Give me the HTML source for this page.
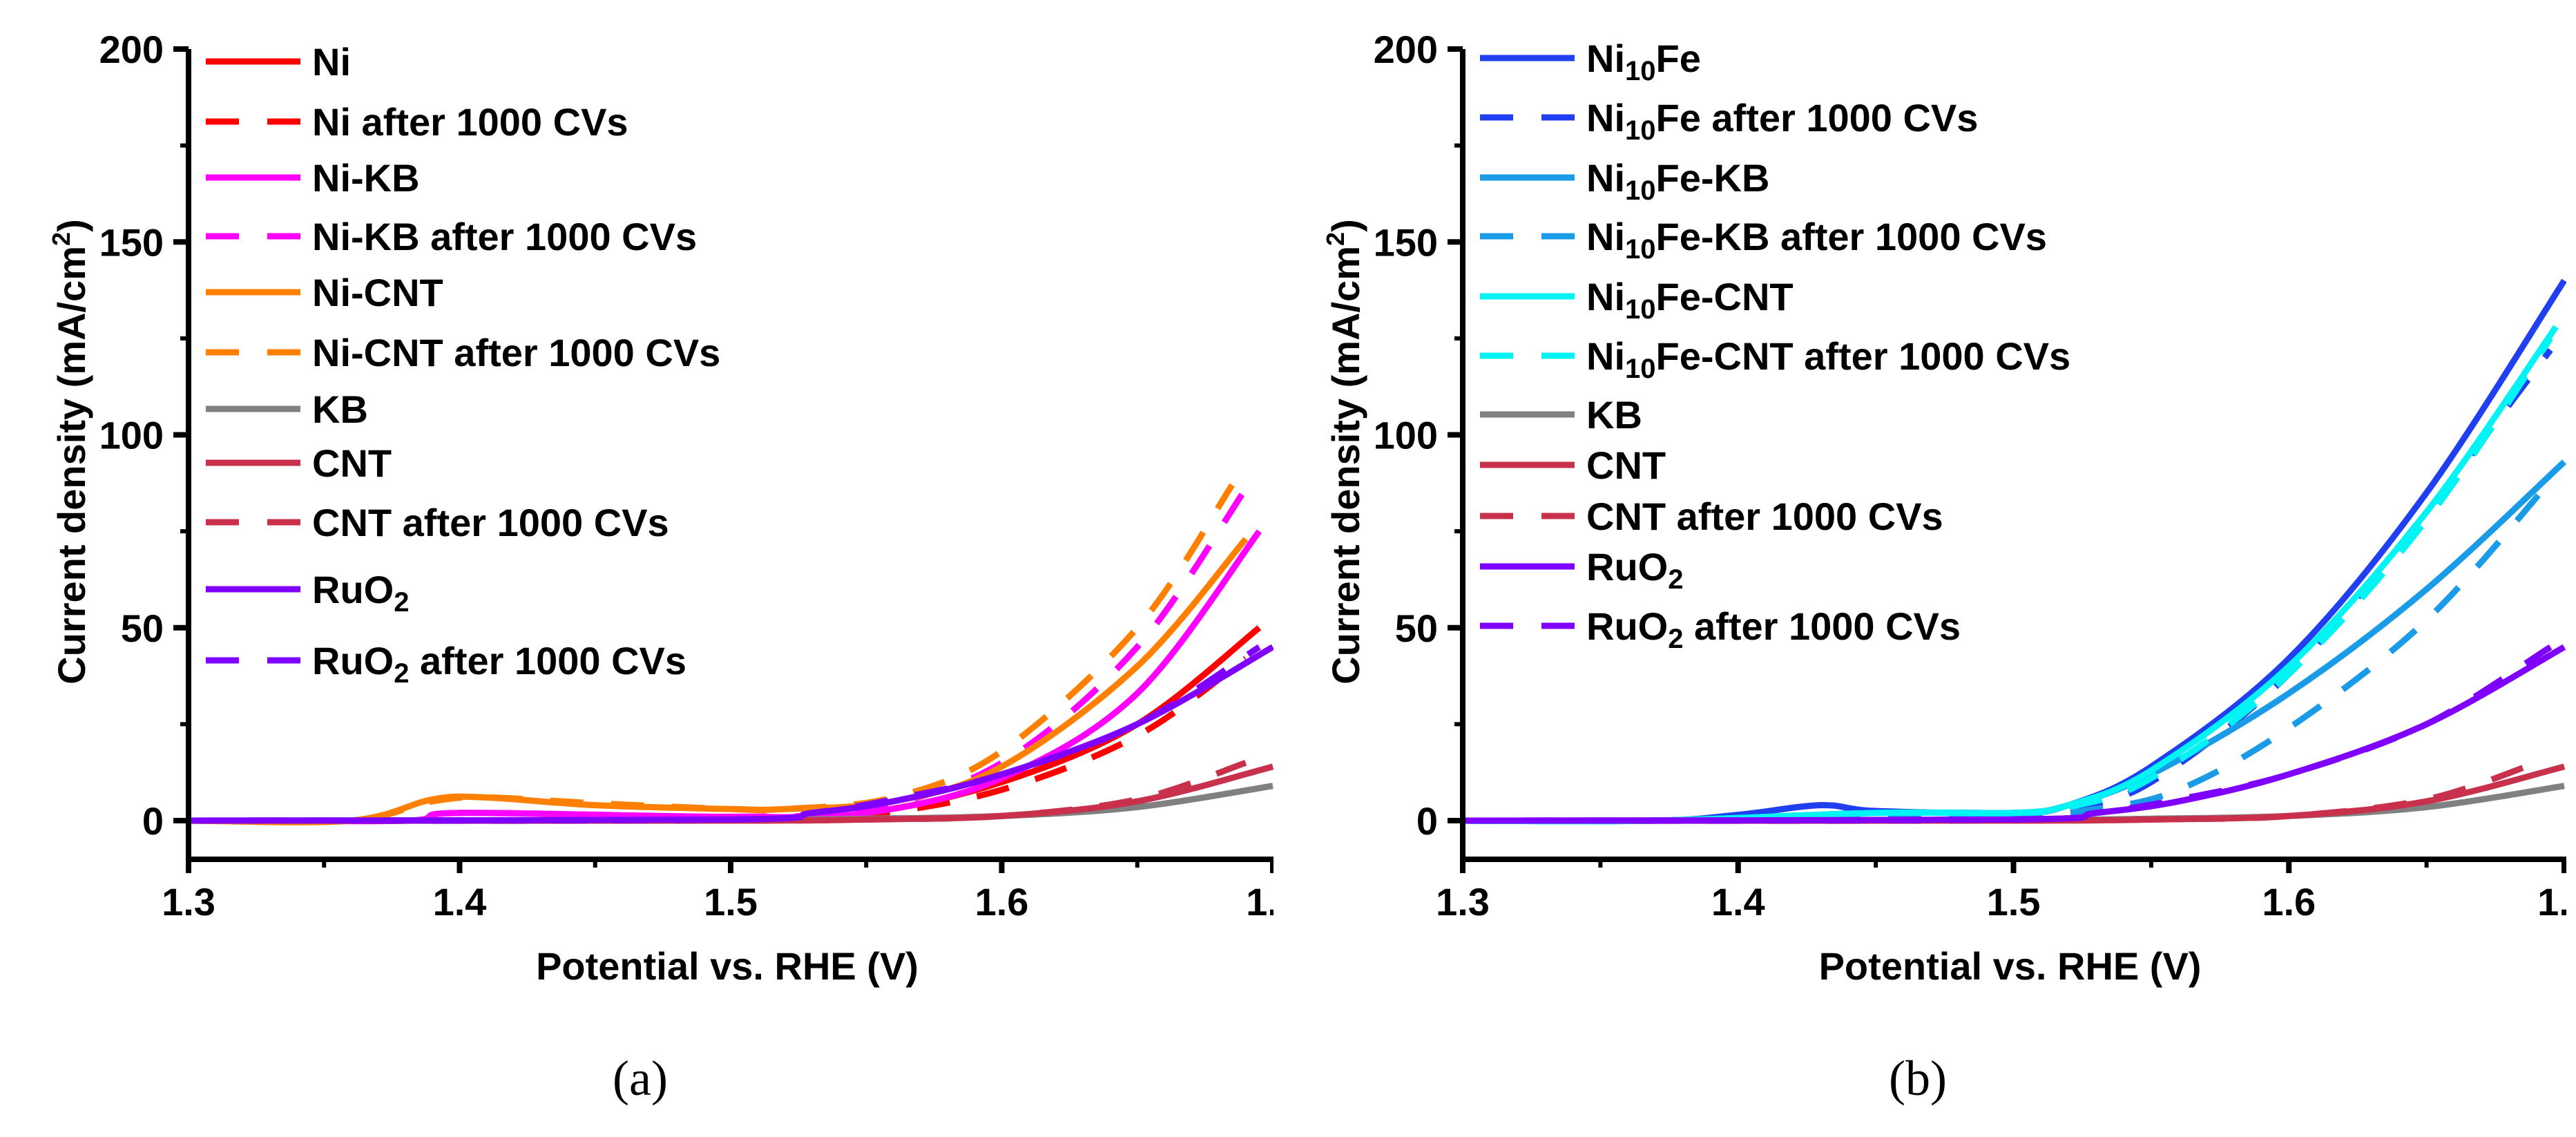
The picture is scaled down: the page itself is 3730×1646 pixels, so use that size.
<!DOCTYPE html>
<html><head><meta charset="utf-8"><style>
html,body{margin:0;padding:0;background:#fff;}
svg{display:block;}
text{font-family:"Liberation Sans",sans-serif;font-weight:bold;fill:#000;}
.cap{font-family:"Liberation Serif",serif;font-weight:normal;}
</style></head><body>
<svg id="fig" width="3730" height="1646" viewBox="0 0 3730 1646" xmlns="http://www.w3.org/2000/svg">
<defs>
<clipPath id="clipA"><rect x="0" y="0" width="1844" height="1646"/></clipPath>
<clipPath id="clipB"><rect x="1860" y="0" width="1856" height="1646"/></clipPath>
</defs>
<g id="panelA" clip-path="url(#clipA)"></g>
<g id="panelB" clip-path="url(#clipB)"></g>
<text class="cap" x="927" y="1585" font-size="72" text-anchor="middle">(a)</text>
<text class="cap" x="2777" y="1585" font-size="72" text-anchor="middle">(b)</text>
</svg>
<script>
// ---- data ----
const xTicks = [1.3, 1.4, 1.5, 1.6, 1.7];
const xTickLabels = ["1.3", "1.4", "1.5", "1.6", "1.7"];
const yTicks = [0, 50, 100, 150, 200];
const yTickLabels = ["0", "50", "100", "150", "200"];

const niX = [1.3, 1.5, 1.55, 1.6, 1.65, 1.695];
const niY = [0, 0.3, 2, 10, 25, 50];
const niAfterX = [1.3, 1.5, 1.55, 1.6, 1.65, 1.69];
const niAfterY = [0, 0.2, 1.5, 8, 22, 42];
const niKbX = [1.3, 1.38, 1.4, 1.5, 1.55, 1.6, 1.65, 1.695];
const niKbY = [0, 0, 2, 1, 2, 11, 33, 75];
const niKbAfterX = [1.3, 1.38, 1.4, 1.5, 1.55, 1.6, 1.65, 1.69];
const niKbAfterY = [0, 0, 2, 1, 3, 15, 45, 86];
const niCntX = [1.3, 1.36, 1.39, 1.41, 1.45, 1.5, 1.52, 1.56, 1.6, 1.65, 1.69];
const niCntY = [0, 0, 5.5, 6, 4, 3, 3, 5, 14, 40, 73];
const niCntAfterX = [1.3, 1.36, 1.39, 1.41, 1.45, 1.5, 1.52, 1.56, 1.6, 1.65, 1.685];
const niCntAfterY = [0, 0, 5, 6, 4.5, 3, 3, 6, 18, 50, 87];
const kbX = [1.3, 1.5, 1.55, 1.6, 1.65, 1.7];
const kbY = [0, 0.2, 0.5, 1.2, 3.5, 9];
const cntX = [1.3, 1.5, 1.55, 1.6, 1.65, 1.7];
const cntY = [0, 0, 0.3, 1.2, 5, 14];
const cntAfterX = [1.3, 1.5, 1.55, 1.6, 1.65, 1.69];
const cntAfterY = [0, 0, 0.3, 1.2, 5.5, 15];
const ruX = [1.3, 1.5, 1.53, 1.56, 1.6, 1.65, 1.7];
const ruY = [0, 0.3, 2, 5, 12, 25, 45];
const ruAfterX = [1.3, 1.5, 1.53, 1.56, 1.6, 1.65, 1.695];
const ruAfterY = [0, 0.3, 2, 5.5, 12, 25, 45];

const feX = [1.3, 1.37, 1.4, 1.43, 1.45, 1.5, 1.52, 1.55, 1.6, 1.65, 1.7];
const feY = [0, 0, 1.5, 4, 2.5, 2, 4, 14, 42, 85, 140];
const feAfterX = [1.3, 1.37, 1.45, 1.5, 1.52, 1.55, 1.6, 1.65, 1.695];
const feAfterY = [0, 0, 2, 2, 3, 10, 38, 80, 122];
const feKbX = [1.3, 1.37, 1.45, 1.5, 1.52, 1.55, 1.6, 1.65, 1.7];
const feKbY = [0, 0, 2, 2, 4, 12, 33, 60, 93];
const feKbAfterX = [1.3, 1.37, 1.45, 1.5, 1.53, 1.56, 1.6, 1.65, 1.695];
const feKbAfterY = [0, 0, 1.5, 1.5, 3, 8, 24, 52, 88];
const feCntX = [1.3, 1.37, 1.45, 1.5, 1.52, 1.55, 1.6, 1.65, 1.697];
const feCntY = [0, 0, 2, 2, 4, 13, 40, 80, 128];
const feCntAfterX = [1.3, 1.37, 1.45, 1.5, 1.52, 1.55, 1.6, 1.65, 1.695];
const feCntAfterY = [0, 0, 2, 2, 3.5, 11, 38, 78, 125];

// ---- styles ----
const RED="#ff0000", MAG="#ff00ff", ORG="#ff8000", GRY="#808080", CRM="#c8304c", PUR="#8000ff";
const BLU="#1f3ff0", SKY="#1a9be8", CYN="#00f4f4";

const seriesA = [
 {name:"Ni", x:niX, y:niY, c:RED, d:false, id:"ni"},
 {name:"Ni after 1000 CVs", x:niAfterX, y:niAfterY, c:RED, d:true, id:"ni-after"},
 {name:"Ni-KB", x:niKbX, y:niKbY, c:MAG, d:false, id:"ni-kb"},
 {name:"Ni-KB after 1000 CVs", x:niKbAfterX, y:niKbAfterY, c:MAG, d:true, id:"ni-kb-after"},
 {name:"Ni-CNT", x:niCntX, y:niCntY, c:ORG, d:false, id:"ni-cnt"},
 {name:"Ni-CNT after 1000 CVs", x:niCntAfterX, y:niCntAfterY, c:ORG, d:true, id:"ni-cnt-after"},
 {name:"KB", x:kbX, y:kbY, c:GRY, d:false, id:"kb"},
 {name:"CNT", x:cntX, y:cntY, c:CRM, d:false, id:"cnt"},
 {name:"CNT after 1000 CVs", x:cntAfterX, y:cntAfterY, c:CRM, d:true, id:"cnt-after"},
 {name:"RuO|2|", x:ruX, y:ruY, c:PUR, d:false, id:"ruo2"},
 {name:"RuO|2| after 1000 CVs", x:ruAfterX, y:ruAfterY, c:PUR, d:true, id:"ruo2-after"}
];
const legendYA = [89,176,257,342,423,510,592,670,756,853,956];
const seriesB = [
 {name:"Ni|10|Fe", x:feX, y:feY, c:BLU, d:false, id:"ni10fe"},
 {name:"Ni|10|Fe after 1000 CVs", x:feAfterX, y:feAfterY, c:BLU, d:true, id:"ni10fe-after"},
 {name:"Ni|10|Fe-KB", x:feKbX, y:feKbY, c:SKY, d:false, id:"ni10fe-kb"},
 {name:"Ni|10|Fe-KB after 1000 CVs", x:feKbAfterX, y:feKbAfterY, c:SKY, d:true, id:"ni10fe-kb-after"},
 {name:"Ni|10|Fe-CNT", x:feCntX, y:feCntY, c:CYN, d:false, id:"ni10fe-cnt"},
 {name:"Ni|10|Fe-CNT after 1000 CVs", x:feCntAfterX, y:feCntAfterY, c:CYN, d:true, id:"ni10fe-cnt-after"},
 {name:"KB", x:kbX, y:kbY, c:GRY, d:false, id:"kb"},
 {name:"CNT", x:cntX, y:cntY, c:CRM, d:false, id:"cnt"},
 {name:"CNT after 1000 CVs", x:cntAfterX, y:cntAfterY, c:CRM, d:true, id:"cnt-after"},
 {name:"RuO|2|", x:ruX, y:ruY, c:PUR, d:false, id:"ruo2"},
 {name:"RuO|2| after 1000 CVs", x:ruAfterX, y:ruAfterY, c:PUR, d:true, id:"ruo2-after"}
];
const legendYB = [84,170,257,342,429,515,600,673,747,820,906];

const NS="http://www.w3.org/2000/svg";
function mk(tag, attrs, parent){const e=document.createElementNS(NS,tag);for(const k in attrs)e.setAttribute(k,attrs[k]);parent.appendChild(e);return e;}
function richText(el, str){
  const parts=str.split("|");
  parts.forEach((p,i)=>{
    if(!p)return;
    const t=document.createElementNS(NS,"tspan");
    t.textContent=p;
    if(i%2===1){t.setAttribute("font-size","40");t.setAttribute("dy","12");}
    else if(i>0){t.setAttribute("dy","-12");}
    el.appendChild(t);
  });
}

function drawPanel(g, x0, x1, series, legendY, prefix){
  const yTop=71, yZero=1188;
  const sx=v=>x0+(v-1.3)/0.4*(x1-x0);
  const sy=v=>yZero-(v/200)*(yZero-yTop);
  series.forEach(s=>{
    const pts=s.x.map((v,i)=>[sx(v),sy(s.y[i])]);
    let d="M"+pts[0][0]+","+pts[0][1];
    for(let i=0;i<pts.length-1;i++){
      const p0=pts[Math.max(0,i-1)],p1=pts[i],p2=pts[i+1],p3=pts[Math.min(pts.length-1,i+2)];
      const c1=[p1[0]+(p2[0]-p0[0])/6,p1[1]+(p2[1]-p0[1])/6];
      const c2=[p2[0]-(p3[0]-p1[0])/6,p2[1]-(p3[1]-p1[1])/6];
      d+=" C"+c1[0]+","+c1[1]+" "+c2[0]+","+c2[1]+" "+p2[0]+","+p2[1];
    }
    const a={d:d,fill:"none",stroke:s.c,"stroke-width":9,"stroke-linejoin":"round"};
    if(s.d)a["stroke-dasharray"]="48 40";
    const p=mk("path",a,g);
    
    
  });
  const ax=mk("path",{d:"M"+x0+","+yTop+" V1263 M"+(x0-4)+",1244 H"+(x1+20),stroke:"#000","stroke-width":8,fill:"none"},g);
  
  
  yTicks.forEach((v,i)=>{
    const y=sy(v);
    const t=mk("line",{x1:x0-22,x2:x0,y1:y,y2:y,stroke:"#000","stroke-width":8},g);
    
    
    const lb=mk("text",{x:x0-36,y:y+20,"font-size":56,"text-anchor":"end"},g);
    lb.textContent=yTickLabels[i];
    
    
    if(i<yTicks.length-1){
      const ym=sy((v+yTicks[i+1])/2);
      const m=mk("line",{x1:x0-12,x2:x0,y1:ym,y2:ym,stroke:"#000","stroke-width":6},g);
      
      
    }
  });
  xTicks.forEach((v,i)=>{
    const x=sx(v);
    const t=mk("line",{x1:x,x2:x,y1:1244,y2:1264,stroke:"#000","stroke-width":8},g);
    
    
    const lb=mk("text",{x:x,y:1325,"font-size":56,"text-anchor":"middle"},g);
    lb.textContent=xTickLabels[i];
    
    
    if(i<xTicks.length-1){
      const xm=sx((v+xTicks[i+1])/2);
      const m=mk("line",{x1:xm,x2:xm,y1:1244,y2:1256,stroke:"#000","stroke-width":6},g);
      
      
    }
  });
  const xt=mk("text",{x:(x0+x1)/2-5,y:1418,"font-size":56,"text-anchor":"middle"},g);
  xt.textContent="Potential vs. RHE (V)";
  
  
  const yx=x0-170+20, yy=654;
  const yt=mk("text",{x:yx,y:yy,"font-size":56,"text-anchor":"middle",transform:"rotate(-90 "+yx+" "+yy+")"},g);
  const t1=document.createElementNS(NS,"tspan");t1.textContent="Current density (mA/cm";yt.appendChild(t1);
  const t2=document.createElementNS(NS,"tspan");t2.textContent="2";t2.setAttribute("font-size","36");t2.setAttribute("dy","-22");yt.appendChild(t2);
  const t3=document.createElementNS(NS,"tspan");t3.textContent=")";t3.setAttribute("dy","22");yt.appendChild(t3);
  
  
  const lx0=x0+25, lx1=x0+162, tx=x0+179;
  series.forEach((s,i)=>{
    const y=legendY[i];
    const lg=mk("g",{},g);
    
    
    const a={x1:lx0,x2:lx1,y1:y,y2:y,stroke:s.c,"stroke-width":9};
    if(s.d)a["stroke-dasharray"]="48 41";
    mk("line",a,lg);
    const te=mk("text",{x:tx,y:y+20,"font-size":56},lg);
    richText(te,s.name);
  });
}
drawPanel(document.getElementById("panelA"),273,1843,seriesA,legendYA,"a");
drawPanel(document.getElementById("panelB"),2118,3713,seriesB,legendYB,"b");
</script>
</body></html>
